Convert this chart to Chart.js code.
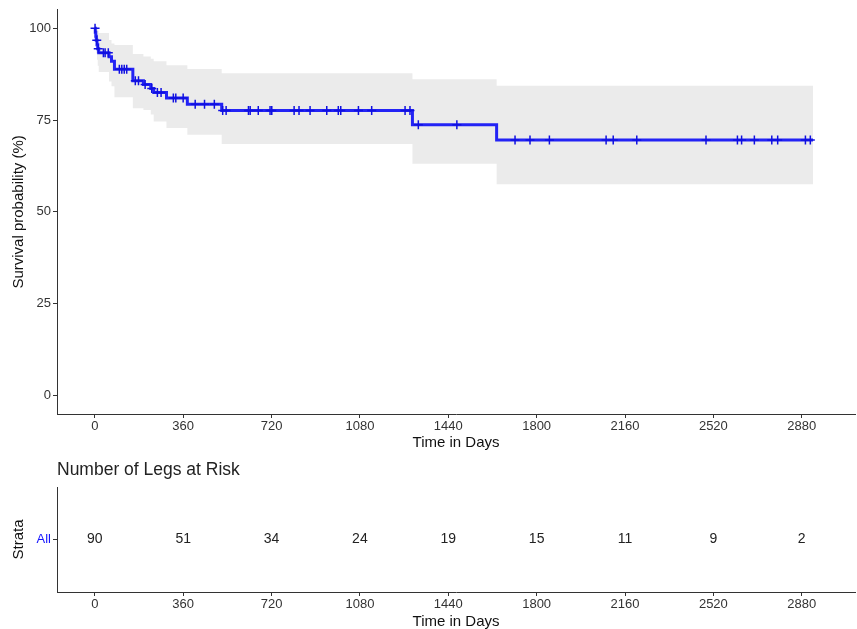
<!DOCTYPE html>
<html>
<head>
<meta charset="utf-8">
<script src="https://cdn.jsdelivr.net/npm/chart.js@4"></script>
<style>
  body { margin: 0; background: #fff; }
  canvas { display: block; }
</style>
</head>
<body>
<canvas id="kmChart" width="857" height="450"></canvas>
<canvas id="riskChart" width="857" height="179"></canvas>
<script>
// Kaplan-Meier steps (days, survival %), with confidence band
let eventTimes = [0, 2, 4, 6, 9, 12, 16, 58, 68, 80, 155, 198, 228, 240, 292, 377, 517, 1294, 1637, 2926];
let survival   = [100, 98.9, 97.8, 96.7, 95.5, 94.4, 93.3, 92.2, 91.0, 88.8, 85.7, 84.7, 83.6, 82.5, 81.0, 79.3, 77.6, 73.7, 69.6, 69.6];
let upperCI    = [100, 100, 100, 100, 99.9, 99.4, 98.7, 96.8, 95.8, 95.4, 93.0, 92.3, 91.7, 91.0, 89.9, 88.9, 87.7, 86.1, 84.3, 84.3];
let lowerCI    = [100, 96.8, 94.9, 93.1, 91.4, 89.8, 88.1, 85.5, 84.2, 81.2, 78.2, 77.7, 76.5, 74.6, 72.8, 71.0, 68.5, 63.1, 57.5, 57.5];

// censored observations (days)
let censorTimes = [1, 8, 14, 35, 42, 55, 100, 110, 120, 130, 165, 178, 205, 232, 255, 270, 320, 330, 360,
  409, 447, 487, 521, 535, 626, 633, 666, 714, 721, 812, 832, 877, 945, 992, 1002, 1074, 1128, 1264, 1284,
  1318, 1475, 1712, 1773, 1852, 2083, 2112, 2208, 2490, 2618, 2635, 2687, 2758, 2782, 2895, 2915];

let timeTicks = [0, 360, 720, 1080, 1440, 1800, 2160, 2520, 2880];
let survTicks = [0, 25, 50, 75, 100];
let strata = ["All"];
let riskTimes = [0, 360, 720, 1080, 1440, 1800, 2160, 2520, 2880];
let atRisk = [90, 51, 34, 24, 19, 15, 11, 9, 2];

let fontFamily = "'Liberation Sans', Arial, sans-serif";
let xMin = -154, xMax = 3097;

function survAt(t) {
    let s = survival[0];
    for (let i = 0; i < eventTimes.length; i++) {
        if (eventTimes[i] <= t) s = survival[i];
    }
    return s;
}

function axisStyle(tickColor) {
    return {
        grid: { display: true, drawOnChartArea: false, drawTicks: true, tickLength: 4, color: "#333" },
        border: { display: true, color: "#333", width: 1 },
        ticks: { color: tickColor || "#333", font: { family: fontFamily, size: 13 }, padding: 2 }
    };
}

function timeAxis(h) {
    let ax = axisStyle();
    ax.ticks.padding = 1;
    ax.ticks.callback = v => String(v);
    return Object.assign(ax, {
        type: "linear",
        min: xMin,
        max: xMax,
        afterBuildTicks: axis => { axis.ticks = timeTicks.map(v => ({ value: v })); },
        afterFit: axis => { axis.height = h; },
        title: { display: true, text: "Time in Days", color: "#111", font: { family: fontFamily, size: 15 }, padding: { top: 0, bottom: -2 } }
    });
}

let kmLine = eventTimes.map((t, i) => ({ x: t, y: survival[i] }));
let upperLine = eventTimes.map((t, i) => ({ x: t, y: upperCI[i] }));
let lowerLine = eventTimes.map((t, i) => ({ x: t, y: lowerCI[i] }));
let censorPoints = censorTimes.map(t => ({ x: t, y: survAt(t) }));

let yAxis = axisStyle();
yAxis.ticks.callback = v => String(v);
Object.assign(yAxis, {
    type: "linear",
    min: -5,
    max: 105,
    afterBuildTicks: axis => { axis.ticks = survTicks.map(v => ({ value: v })); },
    afterFit: axis => { axis.width = 57; },
    title: { display: true, text: "Survival probability (%)", color: "#111", font: { family: fontFamily, size: 15 }, padding: { top: 10, bottom: 0 } }
});

let kmChart = new Chart(document.getElementById("kmChart").getContext("2d"), {
    type: "line",
    data: {
        datasets: [
            {
                data: censorPoints,
                showLine: false,
                pointStyle: "cross",
                pointRadius: 4.5,
                pointBorderWidth: 1.5,
                pointBorderColor: "#1010e0",
                pointBackgroundColor: "#1010e0"
            },
            {
                data: kmLine,
                stepped: true,
                borderColor: "#2323f5",
                borderWidth: 3,
                pointRadius: 0,
                fill: false
            },
            {
                data: upperLine,
                stepped: true,
                borderWidth: 0,
                pointRadius: 0,
                backgroundColor: "#ebebeb",
                fill: "+1"
            },
            {
                data: lowerLine,
                stepped: true,
                borderWidth: 0,
                pointRadius: 0,
                fill: false
            }
        ]
    },
    options: {
        responsive: false,
        animation: false,
        layout: { padding: { top: 0, right: 2, left: 0, bottom: 0 } },
        plugins: { legend: { display: false }, tooltip: { enabled: false } },
        scales: { x: timeAxis(36), y: yAxis }
    }
});
// the censor marks should not push the plot area inward
kmChart.getDatasetMeta(0).controller.getMaxOverflow = () => 0;
kmChart.update();

// risk table
let riskTitle = {
    id: "riskTitle",
    afterDraw(chart) {
        let ctx = chart.ctx;
        ctx.save();
        ctx.font = "17.5px " + fontFamily;
        ctx.fillStyle = "#222";
        ctx.textAlign = "left";
        ctx.textBaseline = "middle";
        ctx.fillText("Number of Legs at Risk", chart.chartArea.left, 20);
        ctx.restore();
    }
};

let riskNumbers = {
    id: "riskNumbers",
    afterDatasetsDraw(chart) {
        let ctx = chart.ctx;
        let meta = chart.getDatasetMeta(0);
        ctx.save();
        ctx.font = "14px " + fontFamily;
        ctx.fillStyle = "#222";
        ctx.textAlign = "center";
        ctx.textBaseline = "middle";
        meta.data.forEach((pt, i) => {
            ctx.fillText(String(atRisk[i]), pt.x, pt.y);
        });
        ctx.restore();
    }
};

let strataAxis = axisStyle("#1515ff");
Object.assign(strataAxis, {
    type: "category",
    labels: strata,
    offset: true,
    afterFit: axis => { axis.width = 57; },
    title: { display: true, text: "Strata", color: "#111", font: { family: fontFamily, size: 15 }, padding: { top: 10, bottom: 0 } }
});
strataAxis.grid.offset = false;

new Chart(document.getElementById("riskChart").getContext("2d"), {
    type: "line",
    data: {
        datasets: [{
            data: riskTimes.map(t => ({ x: t, y: strata[0] })),
            showLine: false,
            pointRadius: 0
        }]
    },
    options: {
        responsive: false,
        animation: false,
        layout: { padding: { top: 37, right: 2, left: 0, bottom: 0 } },
        plugins: { legend: { display: false }, tooltip: { enabled: false } },
        scales: { x: timeAxis(37), y: strataAxis }
    },
    plugins: [riskTitle, riskNumbers]
});
</script>
</body>
</html>
